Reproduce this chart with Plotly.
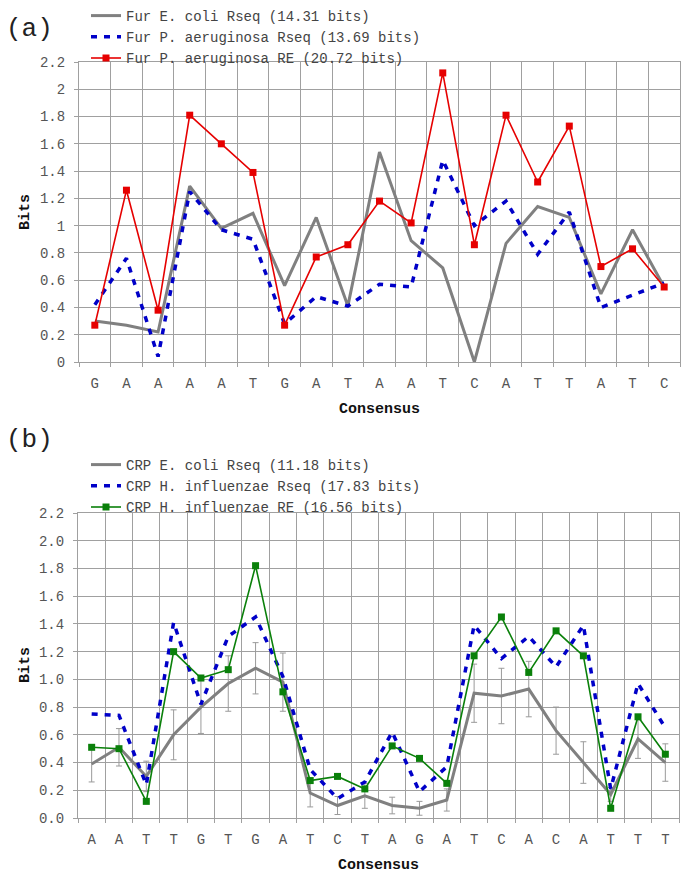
import plotly.graph_objects as go

W, H = 685, 876
ML = 60  # left margin in px (room for y labels/titles)

# ---------- Panel (a) data ----------
seq_a = list("GAAAATGATAATCATTATC")
fur_ecoli_rseq = [0.30, 0.27, 0.22, 1.29, 0.98, 1.09, 0.56, 1.06, 0.41, 1.54,
                  0.89, 0.69, 0.00, 0.87, 1.14, 1.06, 0.50, 0.97, 0.55]
fur_pa_rseq = [0.42, 0.76, 0.04, 1.25, 0.97, 0.90, 0.28, 0.48, 0.41, 0.57,
               0.55, 1.48, 1.00, 1.18, 0.79, 1.10, 0.40, 0.49, 0.58]
fur_pa_re = [0.27, 1.26, 0.38, 1.81, 1.60, 1.39, 0.27, 0.77, 0.86, 1.18,
             1.02, 2.12, 0.86, 1.81, 1.32, 1.73, 0.70, 0.83, 0.55]
names_a = ["Fur E. coli Rseq (14.31 bits)",
           "Fur P. aeruginosa Rseq (13.69 bits)",
           "Fur P. aeruginosa RE (20.72 bits)"]

# ---------- Panel (b) data ----------
seq_b = list("AATTGTGATCTAGATCACATTT")
crp_ecoli_rseq = [0.39, 0.51, 0.30, 0.60, 0.80, 0.97, 1.08, 0.98, 0.18, 0.09, 0.16,
                  0.09, 0.07, 0.13, 0.90, 0.88, 0.93, 0.63, 0.40, 0.17, 0.57, 0.40]
crp_ecoli_err = [0.13, 0.135, 0.11, 0.18, 0.19, 0.20, 0.185, 0.21, 0.10, 0.065, 0.09,
                 0.06, 0.05, 0.08, 0.21, 0.20, 0.20, 0.17, 0.15, 0.05, 0.14, 0.135]
crp_hi_rseq = [0.75, 0.74, 0.24, 1.41, 0.82, 1.31, 1.45, 1.02, 0.35, 0.14, 0.26,
               0.62, 0.19, 0.37, 1.39, 1.15, 1.31, 1.09, 1.39, 0.21, 0.97, 0.65]
crp_hi_re = [0.51, 0.50, 0.12, 1.20, 1.01, 1.07, 1.82, 0.91, 0.27, 0.30, 0.21,
             0.52, 0.43, 0.25, 1.17, 1.45, 1.05, 1.35, 1.17, 0.07, 0.73, 0.46]
names_b = ["CRP E. coli Rseq (11.18 bits)",
           "CRP H. influenzae Rseq (17.83 bits)",
           "CRP H. influenzae RE (16.56 bits)"]

FONT = "'Liberation Mono', 'Courier New', 'DejaVu Sans Mono', monospace"
GRAY = "#808080"
BLUE = "#0000c8"
RED = "#e60000"
GREEN = "#0a800a"
GRID = "#a0a0a0"
DASH = "6px,7px"

xa = list(range(len(seq_a)))
xb = list(range(len(seq_b)))


def px_x(px):
    return (px - ML) / (W - ML)


def px_y(py):
    return (H - py) / H


fig = go.Figure()

# Panel a traces
fig.add_trace(go.Scatter(x=xa, y=fur_ecoli_rseq, name=names_a[0], mode="lines",
                         line=dict(color=GRAY, width=3), xaxis="x", yaxis="y", legend="legend"))
fig.add_trace(go.Scatter(x=xa, y=fur_pa_rseq, name=names_a[1], mode="lines",
                         line=dict(color=BLUE, width=3.5, dash=DASH), xaxis="x", yaxis="y", legend="legend"))
fig.add_trace(go.Scatter(x=xa, y=fur_pa_re, name=names_a[2], mode="lines+markers",
                         line=dict(color=RED, width=1.6),
                         marker=dict(symbol="square", size=7, color=RED),
                         xaxis="x", yaxis="y", legend="legend"))

# Panel b traces
fig.add_trace(go.Scatter(x=xb, y=crp_ecoli_rseq, name=names_b[0], mode="lines",
                         line=dict(color=GRAY, width=3),
                         error_y=dict(type="data", array=crp_ecoli_err, color="#9a9a9a",
                                      thickness=1, width=3),
                         xaxis="x2", yaxis="y2", legend="legend2"))
fig.add_trace(go.Scatter(x=xb, y=crp_hi_rseq, name=names_b[1], mode="lines",
                         line=dict(color=BLUE, width=3.5, dash=DASH), xaxis="x2", yaxis="y2", legend="legend2"))
fig.add_trace(go.Scatter(x=xb, y=crp_hi_re, name=names_b[2], mode="lines+markers",
                         line=dict(color=GREEN, width=1.6),
                         marker=dict(symbol="square", size=7, color=GREEN),
                         xaxis="x2", yaxis="y2", legend="legend2"))


def xaxis_cfg(n, seq, dom, anchor):
    return dict(
        domain=dom, anchor=anchor, range=[-0.5, n - 0.5], automargin=True,
        tickmode="array", tickvals=list(range(n)), ticktext=seq,
        ticks="", ticklabelstandoff=8,
        tickfont=dict(family=FONT, size=14, color="#555"),
        showgrid=False, zeroline=False,
        showline=True, linecolor=GRID, linewidth=1, mirror=True,
        minor=dict(tickmode="linear", tick0=0.5, dtick=1, ticks="outside", ticklen=4,
                   tickcolor=GRID, showgrid=True, gridcolor=GRID, gridwidth=1),
        title=dict(text="<b>Consensus</b>", font=dict(family=FONT, size=15, color="#111"),
                   standoff=11),
    )


def yaxis_cfg(dom, anchor, fmt):
    return dict(
        domain=dom, anchor=anchor, range=[0, 2.2], dtick=0.2, tick0=0, automargin=True,
        tickformat=fmt, ticks="outside", ticklen=4, tickcolor=GRID,
        ticklabelstandoff=6,
        tickfont=dict(family=FONT, size=14, color="#555"),
        showgrid=True, gridcolor=GRID, gridwidth=1, zeroline=False,
        showline=True, linecolor=GRID, linewidth=1, mirror=True,
    )


def label(text, xpx, ypx, size, angle=0, bold=False):
    return dict(text=f"<b>{text}</b>" if bold else text,
                x=px_x(xpx), y=px_y(ypx), xref="paper", yref="paper",
                xanchor="left" if angle == 0 else "center", yanchor="middle",
                textangle=angle, showarrow=False,
                font=dict(family=FONT, size=size, color="#111" if bold else "#222"))


fig.update_layout(
    width=W, height=H,
    margin=dict(l=ML, r=0, t=0, b=0, autoexpand=False),
    paper_bgcolor="white", plot_bgcolor="white",
    xaxis=xaxis_cfg(len(seq_a), seq_a, [px_x(79), px_x(680)], "y"),
    yaxis=yaxis_cfg([px_y(362), px_y(62)], "x", ""),
    xaxis2=xaxis_cfg(len(seq_b), seq_b, [px_x(78), px_x(679)], "y2"),
    yaxis2=yaxis_cfg([px_y(818), px_y(513)], "x2", ".1f"),
    legend=dict(x=86 / W, y=1 + 5 / H, xanchor="left", yanchor="top",
                xref="container", yref="container",
                bgcolor="rgba(0,0,0,0)", font=dict(family=FONT, size=14, color="#444"),
                tracegroupgap=0, itemwidth=30),
    legend2=dict(x=86 / W, y=1 - 449 / H, xanchor="left", yanchor="top",
                 xref="container", yref="container",
                 bgcolor="rgba(0,0,0,0)", font=dict(family=FONT, size=14, color="#444"),
                 tracegroupgap=0, itemwidth=30),
    showlegend=True,
    annotations=[
        label("(a)", 4, 29, 26),
        label("(b)", 4, 440, 26),
        label("Bits", 25, 212, 15, angle=-90, bold=True),
        label("Bits", 25, 665, 15, angle=-90, bold=True),
    ],
)

fig.write_html("out.html", config={"displayModeBar": False},
               post_script="document.body.style.margin='0px';")
